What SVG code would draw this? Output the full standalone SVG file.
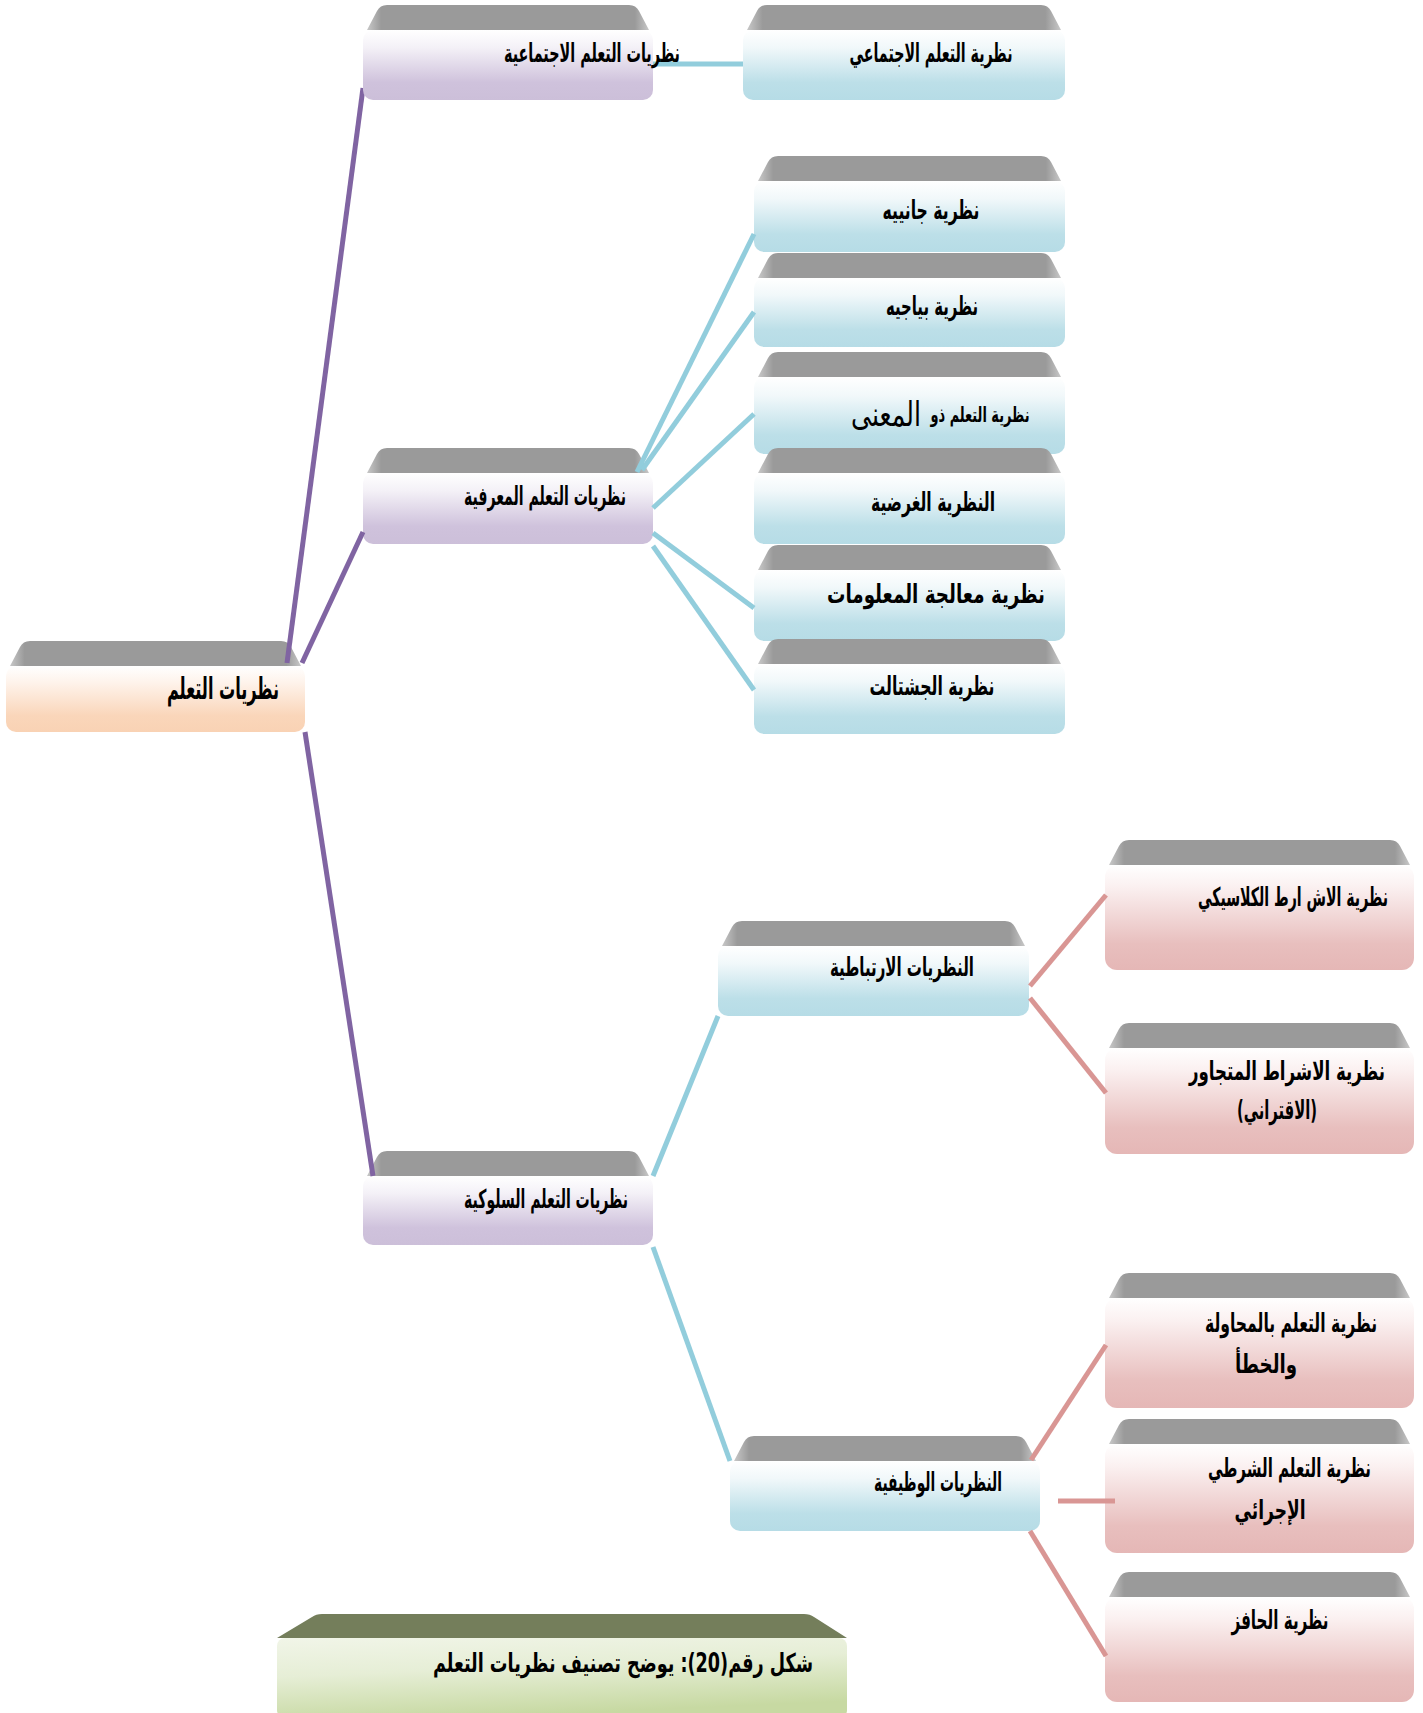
<svg xmlns="http://www.w3.org/2000/svg" width="1423" height="1713" viewBox="0 0 1423 1713">
<defs>
<linearGradient id="gPurple" x1="0" y1="0" x2="0" y2="1"><stop offset="0" stop-color="#FFFFFF"/><stop offset="0.25" stop-color="#F4F1F7"/><stop offset="0.75" stop-color="#CFC2DC"/><stop offset="1" stop-color="#CCBFD9"/></linearGradient>
<linearGradient id="gCyan" x1="0" y1="0" x2="0" y2="1"><stop offset="0" stop-color="#FFFFFF"/><stop offset="0.25" stop-color="#F1F8FA"/><stop offset="0.75" stop-color="#BCDFE8"/><stop offset="1" stop-color="#B6DCE6"/></linearGradient>
<linearGradient id="gPeach" x1="0" y1="0" x2="0" y2="1"><stop offset="0" stop-color="#FFFFFF"/><stop offset="0.25" stop-color="#FEF3EB"/><stop offset="0.75" stop-color="#FAD6BA"/><stop offset="1" stop-color="#F9D2B4"/></linearGradient>
<linearGradient id="gPink" x1="0" y1="0" x2="0" y2="1"><stop offset="0" stop-color="#FFFFFF"/><stop offset="0.2" stop-color="#FBF1F1"/><stop offset="0.75" stop-color="#E8BFBE"/><stop offset="1" stop-color="#E5B7B6"/></linearGradient>
<linearGradient id="gGreen" x1="0" y1="0" x2="0.3" y2="1"><stop offset="0" stop-color="#F1F5E8"/><stop offset="0.45" stop-color="#E6EED6"/><stop offset="1" stop-color="#C7D9A2"/></linearGradient>
<linearGradient id="gGray" x1="0" y1="0" x2="1" y2="0"><stop offset="0" stop-color="#C8C8C8"/><stop offset="0.05" stop-color="#9A9A9A"/><stop offset="0.95" stop-color="#9A9A9A"/><stop offset="1" stop-color="#C8C8C8"/></linearGradient>
</defs>
<style>
.band{fill:url(#gGray)}
.bandG{fill:#747E5B}
.purple{fill:url(#gPurple)}
.cyan{fill:url(#gCyan)}
.peach{fill:url(#gPeach)}
.pink{fill:url(#gPink)}
.green{fill:url(#gGreen)}
text{font-family:"DejaVu Sans",sans-serif;font-stretch:condensed;font-weight:bold;font-size:26px;fill:#000;direction:rtl;text-anchor:middle}
.r{text-anchor:start}
.big{font-size:30px}
.thin{font-weight:normal;font-size:34px}
.small{font-size:21px}
.cp{stroke:#8064A2;stroke-width:5;fill:none}
.cc{stroke:#92CDDC;stroke-width:5;fill:none}
.ck{stroke:#D99694;stroke-width:5;fill:none}
</style>
<rect width="1423" height="1713" fill="#FFFFFF"/>

<g id="n-root">
<path class="band" d="M10,666 L20,647 Q23,641 30,641 L281,641 Q288,641 291,647 L301,666 Z"/>
<rect class="peach" x="6" y="666" width="299" height="66" rx="10"/>
<text class="big" x="223" y="699" textLength="112" lengthAdjust="spacingAndGlyphs">نظريات التعلم</text>
</g>

<g id="n-social-child">
<path class="band" d="M747,30 L757,11 Q760,5 767,5 L1041,5 Q1048,5 1051,11 L1061,30 Z"/>
<rect class="cyan" x="743" y="30" width="322" height="70" rx="10"/>
<text x="931" y="62" textLength="163" lengthAdjust="spacingAndGlyphs">نظرية التعلم الاجتماعي</text>
</g>

<g id="n-gagne">
<path class="band" d="M758,181 L768,162 Q771,156 778,156 L1041,156 Q1048,156 1051,162 L1061,181 Z"/>
<rect class="cyan" x="754" y="181" width="311" height="71" rx="10"/>
<text x="931" y="219" textLength="97" lengthAdjust="spacingAndGlyphs">نظرية جانييه</text>
</g>

<g id="n-piaget">
<path class="band" d="M758,278 L768,259 Q771,253 778,253 L1041,253 Q1048,253 1051,259 L1061,278 Z"/>
<rect class="cyan" x="754" y="278" width="311" height="69" rx="10"/>
<text x="932" y="315" textLength="92" lengthAdjust="spacingAndGlyphs">نظرية بياجيه</text>
</g>

<g id="n-meaning">
<path class="band" d="M758,377 L768,358 Q771,352 778,352 L1041,352 Q1048,352 1051,358 L1061,377 Z"/>
<rect class="cyan" x="754" y="377" width="311" height="77" rx="10"/>
<text class="small" x="980" y="422" textLength="99" lengthAdjust="spacingAndGlyphs">نظرية التعلم ذو</text>
<text class="thin" x="886" y="426" textLength="70" lengthAdjust="spacingAndGlyphs">المعنى</text>
</g>

<g id="n-purposive">
<path class="band" d="M758,473 L768,454 Q771,448 778,448 L1041,448 Q1048,448 1051,454 L1061,473 Z"/>
<rect class="cyan" x="754" y="473" width="311" height="71" rx="10"/>
<text x="933" y="511" textLength="124" lengthAdjust="spacingAndGlyphs">النظرية الغرضية</text>
</g>

<g id="n-info">
<path class="band" d="M758,570 L768,551 Q771,545 778,545 L1041,545 Q1048,545 1051,551 L1061,570 Z"/>
<rect class="cyan" x="754" y="570" width="311" height="71" rx="10"/>
<text x="936" y="603" textLength="218" lengthAdjust="spacingAndGlyphs">نظرية معالجة المعلومات</text>
</g>

<g id="n-gestalt">
<path class="band" d="M758,664 L768,645 Q771,639 778,639 L1041,639 Q1048,639 1051,645 L1061,664 Z"/>
<rect class="cyan" x="754" y="664" width="311" height="70" rx="10"/>
<text x="932" y="695" textLength="125" lengthAdjust="spacingAndGlyphs">نظرية الجشتالت</text>
</g>

<g id="n-cognitive">
<path class="band" d="M367,473 L377,454 Q380,448 387,448 L629,448 Q636,448 639,454 L649,473 Z"/>
<rect class="purple" x="363" y="473" width="290" height="71" rx="10"/>
<text x="545" y="505" textLength="162" lengthAdjust="spacingAndGlyphs">نظريات التعلم المعرفية</text>
</g>

<g id="n-behavioral">
<path class="band" d="M367,1176 L377,1157 Q380,1151 387,1151 L629,1151 Q636,1151 639,1157 L649,1176 Z"/>
<rect class="purple" x="363" y="1176" width="290" height="69" rx="10"/>
<text x="546" y="1208" textLength="164" lengthAdjust="spacingAndGlyphs">نظريات التعلم السلوكية</text>
</g>

<g id="n-associative">
<path class="band" d="M722,946 L732,927 Q735,921 742,921 L1005,921 Q1012,921 1015,927 L1025,946 Z"/>
<rect class="cyan" x="718" y="946" width="311" height="70" rx="10"/>
<text x="902" y="976" textLength="144" lengthAdjust="spacingAndGlyphs">النظريات الارتباطية</text>
</g>

<g id="n-classical">
<path class="band" d="M1109,865 L1119,846 Q1122,840 1129,840 L1390,840 Q1397,840 1400,846 L1410,865 Z"/>
<rect class="pink" x="1105" y="865" width="309" height="105" rx="12"/>
<text class="r" x="1388" y="906" textLength="190" lengthAdjust="spacingAndGlyphs">نظرية الاش ارط الكلاسيكي</text>
</g>

<g id="n-contiguous">
<path class="band" d="M1109,1048 L1119,1029 Q1122,1023 1129,1023 L1390,1023 Q1397,1023 1400,1029 L1410,1048 Z"/>
<rect class="pink" x="1105" y="1048" width="309" height="106" rx="12"/>
<text class="r" x="1385" y="1080" textLength="196" lengthAdjust="spacingAndGlyphs">نظرية الاشراط المتجاور</text>
<text x="1277" y="1119" textLength="80" lengthAdjust="spacingAndGlyphs">(الاقتراني)</text>
</g>

<g id="n-functional">
<path class="band" d="M734,1461 L744,1442 Q747,1436 754,1436 L1016,1436 Q1023,1436 1026,1442 L1036,1461 Z"/>
<rect class="cyan" x="730" y="1461" width="310" height="70" rx="10"/>
<text x="938" y="1491" textLength="128" lengthAdjust="spacingAndGlyphs">النظريات الوظيفية</text>
</g>

<g id="n-trial">
<path class="band" d="M1109,1298 L1119,1279 Q1122,1273 1129,1273 L1390,1273 Q1397,1273 1400,1279 L1410,1298 Z"/>
<rect class="pink" x="1105" y="1298" width="309" height="110" rx="12"/>
<text class="r" x="1377" y="1332" textLength="172" lengthAdjust="spacingAndGlyphs">نظرية التعلم بالمحاولة</text>
<text x="1266" y="1373" textLength="62" lengthAdjust="spacingAndGlyphs">والخطأ</text>
</g>

<g id="n-operant">
<path class="band" d="M1109,1444 L1119,1425 Q1122,1419 1129,1419 L1390,1419 Q1397,1419 1400,1425 L1410,1444 Z"/>
<rect class="pink" x="1105" y="1444" width="309" height="109" rx="12"/>
<text class="r" x="1371" y="1477" textLength="163" lengthAdjust="spacingAndGlyphs">نظرية التعلم الشرطي</text>
<text x="1270" y="1519" textLength="71" lengthAdjust="spacingAndGlyphs">الإجرائي</text>
</g>

<g id="n-drive">
<path class="band" d="M1109,1597 L1119,1578 Q1122,1572 1129,1572 L1390,1572 Q1397,1572 1400,1578 L1410,1597 Z"/>
<rect class="pink" x="1105" y="1597" width="309" height="105" rx="12"/>
<text x="1280" y="1629" textLength="97" lengthAdjust="spacingAndGlyphs">نظرية الحافز</text>
</g>

<g id="n-caption">
<path class="bandG" d="M277,1638 L312,1617 Q316,1614 322,1614 L804,1614 Q810,1614 814,1617 L847,1638 Z"/>
<rect class="green" x="277" y="1638" width="570" height="80" rx="8"/>
<text x="623" y="1672" textLength="380" lengthAdjust="spacingAndGlyphs">شكل رقم(20): يوضح تصنيف نظريات التعلم</text>
</g>

<g id="connectors">
<path class="cp" d="M287,663 L363,88"/>
<path class="cp" d="M302,663 L363,532"/>
<path class="cp" d="M305,732 L373,1176"/>
<path class="cc" d="M653,64 L743,64"/>
<path class="cc" d="M637,472 L754,234"/>
<path class="cc" d="M642,470 L754,312"/>
<path class="cc" d="M653,508 L754,414"/>
<path class="cc" d="M653,533 L754,608"/>
<path class="cc" d="M653,546 L754,690"/>
<path class="cc" d="M653,1176 L718,1016"/>
<path class="cc" d="M653,1247 L730,1461"/>
<path class="ck" d="M1030,986 L1106,895"/>
<path class="ck" d="M1030,998 L1106,1093"/>
<path class="ck" d="M1031,1460 L1106,1345"/>
<path class="ck" d="M1058,1501 L1115,1501"/>
<path class="ck" d="M1030,1531 L1106,1656"/>
</g>

<g id="n-social-parent">
<path class="band" d="M367,30 L377,11 Q380,5 387,5 L629,5 Q636,5 639,11 L649,30 Z"/>
<rect class="purple" x="363" y="30" width="290" height="70" rx="10"/>
<text x="592" y="62" textLength="176" lengthAdjust="spacingAndGlyphs">نظريات التعلم الاجتماعية</text>
</g>
</svg>
